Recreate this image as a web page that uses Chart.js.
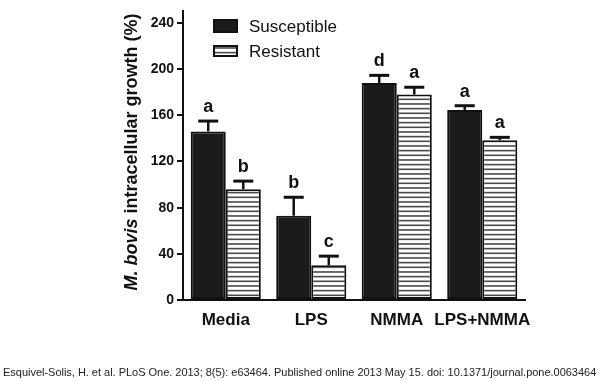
<!DOCTYPE html>
<html>
<head>
<meta charset="utf-8">
<script src="https://cdn.jsdelivr.net/npm/chart.js@4"></script>
<style>
  html, body { margin: 0; padding: 0; background: #fff; }
  #wrap { position: relative; width: 600px; height: 381px; overflow: hidden; }
  #c { position: absolute; left: 0; top: 0; }
  #cap { position: absolute; left: 3px; top: 366px; font: 11px "Liberation Sans", Arial, sans-serif; letter-spacing: -0.02px; color: #222; white-space: nowrap; }
</style>
</head>
<body>
<div id="wrap">
  <canvas id="c" width="600" height="381"></canvas>
  <div id="cap">Esquivel-Solis, H. et al. PLoS One. 2013; 8(5): e63464. Published online 2013 May 15. doi: 10.1371/journal.pone.0063464</div>
</div>
<script>
const categories = ["Media", "LPS", "NMMA", "LPS+NMMA"];
const seriesNames = ["Susceptible", "Resistant"];
const susceptible = [146, 73, 188, 164.6];
const resistant = [96, 30, 178, 138.3];
const susceptibleErr = [9, 16, 6.6, 3.7];
const resistantErr = [7, 8, 6.3, 2.6];
const susceptibleLetters = ["a", "b", "d", "a"];
const resistantLetters = ["b", "c", "a", "a"];
const yTicks = [0, 40, 80, 120, 160, 200, 240];
const yMax = 250;
const yTitleItalic = "M. bovis";
const yTitleRest = " intracellular growth (%)";

const FONT = '"Liberation Sans", Arial, sans-serif';

function makeStripePattern() {
  const pc = document.createElement('canvas');
  pc.width = 8; pc.height = 14;
  const g = pc.getContext('2d');
  g.fillStyle = '#fff';
  g.fillRect(0, 0, 8, 14);
  g.fillStyle = '#4a4a4a';
  [0.5, 5.17, 9.83].forEach(y => g.fillRect(0, y, 8, 1.6));
  return document.getElementById('c').getContext('2d').createPattern(pc, 'repeat');
}
const stripes = makeStripePattern();

const errors = [susceptibleErr, resistantErr];
const letters = [susceptibleLetters, resistantLetters];

const errorBarPlugin = {
  id: 'errorBars',
  afterDatasetsDraw(chart) {
    const ctx = chart.ctx;
    const y = chart.scales.y;
    ctx.save();
    chart.data.datasets.forEach((ds, di) => {
      const meta = chart.getDatasetMeta(di);
      meta.data.forEach((bar, i) => {
        const v = ds.data[i];
        const top = y.getPixelForValue(v + errors[di][i]);
        ctx.strokeStyle = '#111';
        ctx.lineWidth = 2.5;
        ctx.beginPath();
        ctx.moveTo(bar.x, bar.y);
        ctx.lineTo(bar.x, top);
        ctx.stroke();
        ctx.lineWidth = 3;
        ctx.beginPath();
        ctx.moveTo(bar.x - 10, top);
        ctx.lineTo(bar.x + 10, top);
        ctx.stroke();
        ctx.fillStyle = '#111';
        ctx.font = 'bold 18px ' + FONT;
        ctx.textAlign = 'center';
        ctx.textBaseline = 'alphabetic';
        ctx.fillText(letters[di][i], bar.x, top - 9);
      });
    });
    ctx.restore();
  }
};

const legendPlugin = {
  id: 'customLegend',
  afterDraw(chart) {
    const ctx = chart.ctx;
    ctx.save();
    const rows = [{ y: 19, h: 14 }, { y: 45, h: 12 }];
    chart.data.datasets.forEach((ds, di) => {
      const r = rows[di];
      ctx.fillStyle = ds.backgroundColor;
      ctx.fillRect(213, r.y, 25, r.h);
      ctx.strokeStyle = '#111';
      ctx.lineWidth = 2;
      ctx.strokeRect(214, r.y + 1, 23, r.h - 2);
      ctx.fillStyle = '#111';
      ctx.font = '17px ' + FONT;
      ctx.textAlign = 'left';
      ctx.textBaseline = 'middle';
      ctx.fillText(ds.label, 249, r.y + r.h / 2 + 1);
    });
    ctx.restore();
  }
};

const yTitlePlugin = {
  id: 'yTitle',
  afterDraw(chart) {
    const ctx = chart.ctx;
    ctx.save();
    const fi = 'italic bold 18px ' + FONT;
    const fr = 'bold 18px ' + FONT;
    ctx.font = fi; const w1 = ctx.measureText(yTitleItalic).width;
    ctx.font = fr; const w2 = ctx.measureText(yTitleRest).width;
    const total = w1 + w2;
    ctx.translate(137, 152);
    ctx.rotate(-Math.PI / 2);
    ctx.fillStyle = '#111';
    ctx.textBaseline = 'alphabetic';
    ctx.textAlign = 'left';
    ctx.font = fi; ctx.fillText(yTitleItalic, -total / 2, 0);
    ctx.font = fr; ctx.fillText(yTitleRest, -total / 2 + w1, 0);
    ctx.restore();
  }
};

new Chart(document.getElementById('c'), {
  type: 'bar',
  data: {
    labels: categories,
    datasets: [
      { label: seriesNames[0], data: susceptible, backgroundColor: '#1b1b1b', borderColor: '#111', borderWidth: 2, borderSkipped: false },
      { label: seriesNames[1], data: resistant, backgroundColor: stripes, borderColor: '#111', borderWidth: 2, borderSkipped: false }
    ]
  },
  options: {
    responsive: false,
    animation: false,
    devicePixelRatio: 1,
    categoryPercentage: 0.82,
    barPercentage: 1.0,
    layout: { padding: { left: 0, right: 75, top: 6, bottom: 30 } },
    plugins: { legend: { display: false }, tooltip: { enabled: false } },
    scales: {
      x: {
        grid: { display: false, drawTicks: false },
        border: { display: true, color: '#111', width: 2 },
        ticks: { color: '#111', font: { family: FONT, size: 17, weight: 'bold' }, padding: 10, maxRotation: 0, autoSkip: false },
        afterFit(s) { s.height = 51; }
      },
      y: {
        min: 0, max: yMax,
        grid: { display: true, drawOnChartArea: false, drawTicks: true, tickLength: 6, color: '#111', lineWidth: 2 },
        border: { display: true, color: '#111', width: 2 },
        ticks: { stepSize: 40, color: '#111', font: { family: FONT, size: 14, weight: 'bold' }, padding: 3 },
        afterBuildTicks(s) { s.ticks = yTicks.map(v => ({ value: v })); },
        afterFit(s) { s.width = 183; }
      }
    }
  },
  plugins: [errorBarPlugin, legendPlugin, yTitlePlugin]
});
</script>
</body>
</html>
